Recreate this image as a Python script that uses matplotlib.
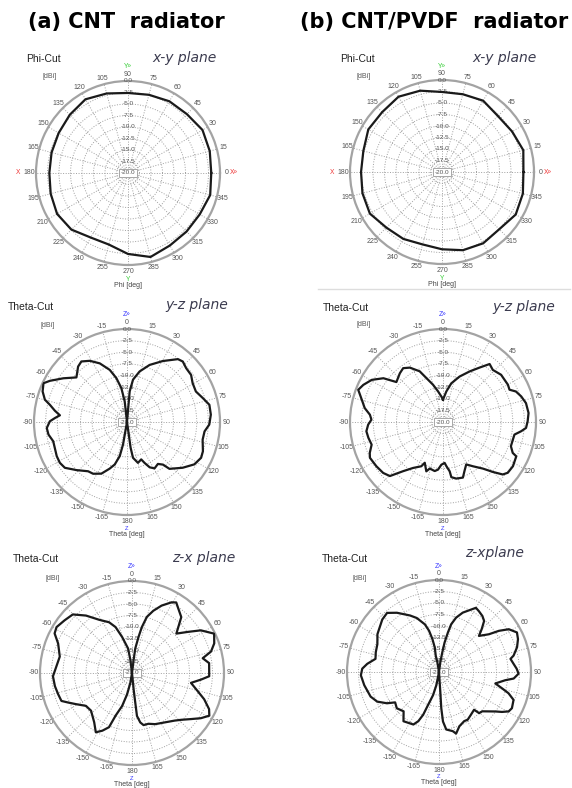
import numpy as np
import matplotlib
matplotlib.use('Agg')
import matplotlib.pyplot as plt
from matplotlib.lines import Line2D

plt.rcParams['font.family'] = ['Liberation Sans', 'DejaVu Sans']

# ---- data (gain in dBi) ----
phi_deg = list(range(0, 360, 15))
xy_a_db = [-1.9, -1.6, -1.3, -1.9, -2.0, -2.4, -2.6, -2.1, -1.5, -2.1, -2.6, -2.8,
           -2.9, -2.6, -2.2, -2.6, -3.8, -3.9, -2.4, -1.1, -1.8, -2.0, -2.0, -1.5]
xy_b_db = [-2.3, -1.7, -2.4, -2.8, -2.1, -2.5, -2.6, -1.7, -1.1, -1.6, -1.5, -2.3,
           -2.4, -2.1, -1.9, -2.9, -3.2, -3.7, -3.2, -2.4, -2.1, -2.4, -1.5, -1.8]

yz_a_theta = [0, 5.0, 8.1, 14.0, 21.6, 30.4, 39.0, 42.7, 47.7, 53.7,
              59.4, 66.1, 72.5, 78.2, 85.0, 91.8, 96.9, 103.1, 111.1, 115.8,
              122.2, 129.4, 137.8, 139.8, 143.6, 149.3, 153.4, 156.7, 159.2, 165.0,
              170.5, 172, 172, 180, -170, -170, -168, -163.9, -159.6, -153.6,
              -146.8, -141.7, -133.6, -126.4, -121.3, -115.9, -109.8, -104.6, -99.1, -94.3,
              -89.5, -86.8, -84.3, -81.1, -77.4, -74.8, -70.1, -65.1, -61.9, -55.5,
              -48.6, -41.4, -37.0, -31.3, -24.9, -18.3, -13.6, -9.5, -6.4, 0]
yz_a_db = [-20, -13.4, -10.8, -8.8, -6.8, -4.8, -2.6, -2.3, -2.8, -2.9,
           -3.6, -3.8, -2.9, -1.9, -1.9, -2.3, -3.2, -3.3, -2.5, -2.3,
           -2.9, -4.5, -6.4, -8.0, -8.8, -8.4, -9.1, -10.4, -11.4, -10.9,
           -12.2, -14.4, -18.0, -20, -18.0, -15.1, -12.5, -10.5, -9.3, -7.6,
           -6.7, -6.5, -5.0, -3.4, -3.1, -3.2, -3.5, -3.6, -2.9, -2.7,
           -3.4, -4.5, -5.5, -4.3, -3.0, -1.7, -0.7, -0.2, -1.2, -3.4,
           -5.5, -4.1, -3.7, -4.6, -6.1, -8.2, -10.3, -12.6, -15.5, -20]

yz_b_theta = [0, 6.2, 12.1, 20.0, 27.8, 33.9, 38.8, 43.7, 50.9, 60.1,
              64.1, 67.3, 71.9, 77.2, 84.0, 89.6, 94.1, 96.8, 100.0, 104.2,
              109.6, 113.9, 115.1, 122.3, 128.1, 131.3, 135.0, 139.4, 145.9, 151.3,
              156.3, 160.3, 166.8, 171.4, 172.3, 175.7, 177.7, -177.8, -174.0, -170.4,
              -164.1, -161.3, -155.9, -153.9, -146.9, -141.0, -135.5, -130.4, -123.6, -116.1,
              -112.9, -107.6, -102.0, -96.9, -92.0, -88.1, -84.3, -79.9, -74.7, -69.2,
              -65.0, -59.4, -53.7, -49.4, -41.5, -36.5, -31.4, -24.7, -20.7, -15.0,
              -9.3, -3.7, 0]
yz_b_db = [-15.2, -13.4, -11.5, -9.6, -7.7, -5.9, -4.0, -4.5, -3.9, -3.9,
           -4.1, -3.0, -2.3, -1.7, -1.5, -1.8, -2.1, -3.1, -4.4, -4.5,
           -4.5, -3.6, -2.6, -2.2, -2.3, -2.9, -4.8, -6.8, -8.5, -9.6,
           -8.5, -7.3, -7.5, -8.0, -9.3, -10.5, -11.2, -10.8, -9.7, -9.3,
           -9.6, -8.8, -10.4, -9.4, -8.2, -6.4, -3.7, -3.1, -2.8, -2.5,
           -2.9, -3.9, -3.6, -3.4, -3.9, -4.6, -4.2, -2.9, -1.9, -0.5,
           -1.1, -2.2, -4.1, -6.8, -6.0, -5.6, -6.3, -8.0, -9.9, -11.7,
           -13.3, -14.5, -15.2]

zx_a_theta = [0, 7.1, 7.6, 10.3, 12.1, 14.8, 18.9, 23.7, 29.2, 32.1,
              35.0, 41.4, 48.4, 53.7, 58.2, 64.4, 70.2, 74.8, 78.2, 82.7,
              92.4, 95.4, 99.5, 105.4, 110.0, 115.1, 118.9, 123.3, 127.9, 133.4,
              138.1, 146.3, 155.7, 162.1, 167.5, 170.5, 173.4, 173.7, 174.3, 180,
              -170.5, -167.0, -163.3, -159.0, -157.0, -152.8, -148.6, -142.5, -132.6, -125.5,
              -119.2, -114.8, -111.6, -106.1, -99.7, -92.4, -85.0, -77.2, -68.2, -62.9,
              -58.7, -52.0, -45.3, -38.7, -31.7, -24.3, -19.7, -15.3, -9.1, -7.1, 0]
zx_a_db = [-20, -17.1, -14.6, -12.0, -9.8, -7.4, -5.7, -4.0, -2.4, -1.9,
           -2.6, -3.8, -7.1, -4.9, -2.4, -0.2, -1.0, -2.2, -4.3, -3.1,
           -3.2, -4.9, -7.0, -5.2, -3.3, -1.5, -0.8, -2.1, -3.7, -5.2,
           -6.1, -7.1, -7.8, -8.4, -8.4, -9.1, -10.6, -13.5, -16.4, -20,
           -17.8, -15.2, -12.5, -10.1, -7.2, -5.9, -4.9, -6.5, -7.9, -7.7,
           -6.1, -4.7, -3.5, -3.3, -3.0, -2.8, -3.5, -3.9, -2.7, -1.1,
           -0.8, -1.4, -1.9, -4.0, -6.4, -7.9, -9.4, -11.9, -14.6, -17.1, -20]

zx_b_theta = [0, 7.6, 9.5, 10.7, 12.7, 14.3, 17.5, 21.8, 27.0, 29.9,
              33.4, 37.8, 41.5, 45.0, 47.9, 52.9, 55.5, 58.5, 63.1, 67.4,
              72.4, 77.6, 79.6, 83.7, 87.6, 91.2, 95.0, 97.1, 101.5, 104.6,
              107.0, 110.5, 116.4, 119.5, 122.4, 124.9, 132.3, 135.7, 137.1, 143.3,
              149.0, 152.8, 159.4, 164.5, 166.9, 172.8, 175.4, 176.4, 176.2, 180,
              -168.7, -165.6, -161.7, -159.7, -157.2, -154.0, -144.2, -138.0, -130.7, -124.7,
              -121.0, -115.6, -109.8, -100.0, -92.4, -87.5, -83.5, -78.3, -72.7, -65.7,
              -58.5, -54.6, -47.2, -41.3, -35.4, -27.1, -22.4, -16.5, -13.5, -11.3,
              -9.8, -11.3, -9.5, 0]
zx_b_db = [-20, -17.8, -15.7, -13.5, -11.2, -9.3, -7.6, -6.1, -4.8, -3.9,
           -4.2, -4.6, -5.2, -6.9, -8.3, -6.4, -4.2, -2.2, -1.0, -1.4,
           -2.2, -3.4, -4.2, -3.7, -3.1, -2.7, -3.7, -5.5, -7.5, -5.8,
           -4.2, -2.7, -2.3, -2.6, -3.8, -5.0, -7.3, -7.5, -8.8, -8.4,
           -7.9, -8.0, -7.4, -6.1, -6.8, -7.4, -9.2, -12.1, -15.7, -20,
           -17.1, -14.8, -12.5, -10.1, -8.4, -7.3, -6.8, -8.5, -7.9, -8.4,
           -6.8, -5.1, -4.2, -3.5, -3.0, -3.3, -4.3, -5.9, -5.6, -5.3,
           -4.3, -4.0, -3.2, -2.9, -4.2, -6.2, -7.3, -9.2, -10.8, -12.7,
           -14.6, -16.4, -17.8, -20]

ring_db = [-17.5, -15.0, -12.5, -10.0, -7.5, -5.0, -2.5, 0.0]
cut_angles = np.arange(0, 360, 15)

W, H = 572, 788
fig = plt.figure(figsize=(W / 100, H / 100), dpi=100)


def fx(x):
    return x / W


def fy(y):
    return 1 - y / H


def panel(cx, cy, R, theta, db, phi_cut):
    ax = fig.add_axes([fx(cx - R), fy(cy + R), 2 * R / W, 2 * R / H], projection='polar')
    if phi_cut:
        ax.set_theta_zero_location('E')
        ax.set_theta_direction(1)
        labels = [str(a) for a in cut_angles]
        top = 90
    else:
        ax.set_theta_zero_location('N')
        ax.set_theta_direction(-1)
        labels = [str(a if a <= 180 else a - 360) for a in cut_angles]
        top = 0
    ax.set_thetagrids(cut_angles, labels, fontsize=5, color='#555555')
    ax.tick_params(axis='x', pad=-6)
    ax.set_ylim(-20, 0)
    ax.set_yticks(ring_db[:-1])
    ax.set_yticklabels([])
    ax.grid(True, linestyle=':', color='#a0a0a0', linewidth=0.7)
    ax.spines['polar'].set_color('#a3a3a3')
    ax.spines['polar'].set_linewidth(1.6)
    for r in ring_db:
        ax.text(np.deg2rad(top), r, '%.1f' % r, fontsize=4.6, color='#555555',
                ha='center', va='center', zorder=4)
    ax.text(0, -20, '-20.0', fontsize=4.6, color='#555555', ha='center', va='center', zorder=4,
            bbox=dict(boxstyle='square,pad=0.2', fc='white', ec='#9a9a9a', lw=0.6))
    t = np.unwrap(np.deg2rad(theta))
    ax.plot(t, db, color='#1a1a1a', lw=1.6, zorder=5)
    return ax


def header(cut, cut_xy, dbi_xy, plane, plane_xy):
    fig.text(fx(cut_xy[0]), fy(cut_xy[1]), cut, fontsize=7.5, color='#222222', ha='left', va='center')
    fig.text(fx(dbi_xy[0]), fy(dbi_xy[1]), '[dBi]', fontsize=5, color='#555555', ha='center', va='center')
    fig.text(fx(plane_xy[0]), fy(plane_xy[1]), plane, fontsize=10, color='#3b3b4f',
             style='italic', family='DejaVu Sans', ha='left', va='center')


def marker(x, y, s, c, size=4.8):
    fig.text(fx(x), fy(y), s, fontsize=size, color=c, ha='center', va='center')


# titles
fig.text(fx(126), fy(22), '(a) CNT  radiator', fontsize=15, fontweight='bold',
         family='DejaVu Sans', ha='center', va='center')
fig.text(fx(434), fy(22), '(b) CNT/PVDF  radiator', fontsize=15, fontweight='bold',
         family='DejaVu Sans', ha='center', va='center')

# x-y plane (phi cuts)
for cx, cy, db, cut_x, plane_x in [(128, 173, xy_a_db, 26, 152), (442, 172, xy_b_db, 340, 472)]:
    panel(cx, cy, 92, phi_deg + [360], db + [db[0]], True)
    header('Phi-Cut', (cut_x, 59), (cx - 78, 77), 'x-y plane', (plane_x, 58))
    marker(cx, cy - 92 - 14, 'Y»', '#33cc33')
    marker(cx, cy + 92 + 15, 'Y', '#33cc33')
    marker(cx - 92 - 18, cy, 'X', '#ee3333')
    marker(cx + 92 + 14, cy, 'X»', '#ee3333')
    fig.text(fx(cx), fy(cy + 92 + 21), 'Phi [deg]', fontsize=5, color='#444444', ha='center', va='center')

# y-z and z-x planes (theta cuts)
theta_panels = [
    (127, 422, 93, yz_a_theta, yz_a_db, (8, 307), (48, 325), 'y-z plane', (165, 305)),
    (443, 422, 93, yz_b_theta, yz_b_db, (323, 308), (364, 324), 'y-z plane', (492, 307)),
    (132, 673, 92, zx_a_theta, zx_a_db, (13, 559), (53, 578), 'z-x plane', (172, 558)),
    (439, 672, 92, zx_b_theta, zx_b_db, (322, 559), (360, 578), 'z-xplane', (465, 553)),
]
for cx, cy, R, th, db, cut_xy, dbi_xy, plane, plane_xy in theta_panels:
    panel(cx, cy, R, th, db, False)
    header('Theta-Cut', cut_xy, dbi_xy, plane, plane_xy)
    marker(cx, cy - R - 14, 'Z»', '#3333ff')
    marker(cx, cy + R + 13, 'Z', '#3333ff', size=4.2)
    fig.text(fx(cx), fy(cy + R + 19), 'Theta [deg]', fontsize=5, color='#444444', ha='center', va='center')

# thin separator in the right column
fig.add_artist(Line2D([fx(318), fx(570)], [fy(289), fy(289)], color='#dddddd', lw=1))

fig.savefig('out.png', dpi=100)
